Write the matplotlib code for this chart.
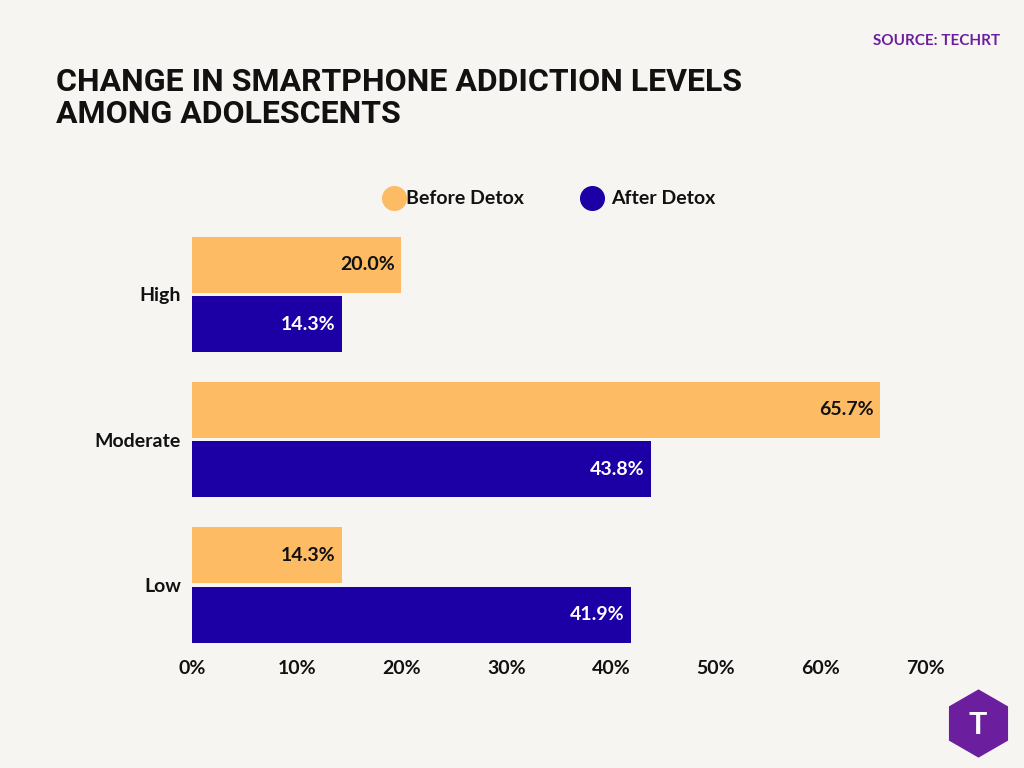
import matplotlib.pyplot as plt
from matplotlib.lines import Line2D
import numpy as np

categories = ["High", "Moderate", "Low"]
before = [20.0, 65.7, 14.3]
after = [14.3, 43.8, 41.9]
xticks = [0, 10, 20, 30, 40, 50, 60, 70]

BG = "#F6F5F1"
ORANGE = "#FDBB63"
BLUE = "#1C00A6"
INK = "#111111"
PURPLE = "#6B1E9E"

plt.rcParams["font.family"] = ["Lato", "DejaVu Sans"]

fig = plt.figure(figsize=(10.24, 7.68), dpi=100, facecolor=BG)
ax = fig.add_axes([0.1875, 0.155, 0.716, 0.545], facecolor=BG)

pos = np.array([2, 1, 0])
h = 0.385
ax.barh(pos + 0.205, before, height=h, color=ORANGE)
ax.barh(pos - 0.205, after, height=h, color=BLUE)

for p, b, a in zip(pos, before, after):
    ax.text(b - 0.6, p + 0.205, f"{b:.1f}%", ha="right", va="center",
            fontsize=14, fontweight="bold", color=INK)
    ax.text(a - 0.6, p - 0.205, f"{a:.1f}%", ha="right", va="center",
            fontsize=14, fontweight="bold", color="white")

ax.set_xlim(0, 70)
ax.set_ylim(-0.44, 2.44)
ax.set_yticks(pos)
ax.set_yticklabels(categories, fontsize=14, fontweight="bold", color=INK)
ax.set_xticks(xticks)
ax.set_xticklabels([f"{t}%" for t in xticks], fontsize=14, fontweight="bold", color=INK)
ax.tick_params(length=0, pad=8)
for s in ax.spines.values():
    s.set_visible(False)

# legend
fig.add_artist(Line2D([0.385], [0.742], marker="o", markersize=17, color=ORANGE,
                      linestyle="none", transform=fig.transFigure))
fig.text(0.396, 0.742, "Before Detox", fontsize=14, fontweight="bold", color=INK, va="center")
fig.add_artist(Line2D([0.578], [0.742], marker="o", markersize=17, color=BLUE,
                      linestyle="none", transform=fig.transFigure))
fig.text(0.597, 0.742, "After Detox", fontsize=14, fontweight="bold", color=INK, va="center")

fig.text(0.055, 0.832, "CHANGE IN SMARTPHONE ADDICTION LEVELS\nAMONG ADOLESCENTS",
         fontsize=23, fontweight="bold", color=INK, va="bottom", linespacing=1.1,
         family=["Roboto", "DejaVu Sans"], fontstretch="condensed")
fig.text(0.977, 0.947, "SOURCE: TECHRT", fontsize=11, fontweight="bold",
         color=PURPLE, ha="right", va="center")

# logo
fig.add_artist(Line2D([0.955], [0.058], marker="h", markersize=48, color=PURPLE,
                      linestyle="none", transform=fig.transFigure))
fig.text(0.955, 0.056, "T", fontsize=22, fontweight="bold", color="white",
         ha="center", va="center")

fig.savefig("out.png", dpi=100, facecolor=BG)
